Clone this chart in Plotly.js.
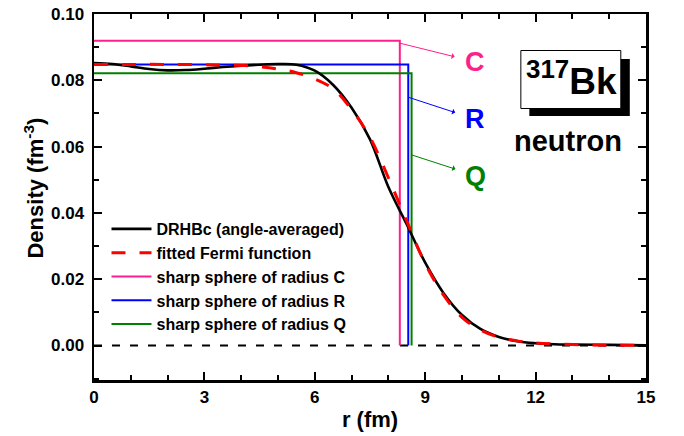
<!DOCTYPE html>
<html>
<head>
<meta charset="utf-8">
<script src="https://cdn.plot.ly/plotly-3.0.1.min.js"></script>
<style>
  html, body { margin: 0; padding: 0; background: #ffffff; }
  #chart { width: 684px; height: 436px; }
</style>
</head>
<body>
<div id="chart"></div>
<script>
// Neutron density of 317Bk: DRHBc profile (angle-averaged) and its Fermi fit, r in fm, rho in fm^-3
const rDRHBc = [0, 0.5, 1, 1.5, 2, 2.5, 3, 3.5, 4, 4.5, 5, 5.5, 6, 6.5, 7, 7.5, 8, 8.5, 9, 9.5, 10, 10.5, 11, 11.5, 12, 12.5, 13, 14, 15];
const rhoDRHBc = [0.0852, 0.0849, 0.0842, 0.0834, 0.0830, 0.0831, 0.0835, 0.0840, 0.0844, 0.0847, 0.0849, 0.0847, 0.0829, 0.0786, 0.0717, 0.0622, 0.0478, 0.0365, 0.0250, 0.0158, 0.0092, 0.0050, 0.0026, 0.0013, 0.0007, 0.0004, 0.0003, 0.0002, 0.0001];

const rFermi = [0, 1, 2, 3, 3.5, 4, 4.5, 5, 5.5, 6, 6.5, 7, 7.5, 8, 8.5, 9, 9.5, 10, 10.5, 11, 11.5, 12, 13, 14, 15];
const rhoFermi = [0.0848, 0.0848, 0.0848, 0.0847, 0.0846, 0.0845, 0.0841, 0.0834, 0.0823, 0.0804, 0.0774, 0.0712, 0.0628, 0.0506, 0.0375, 0.0247, 0.0152, 0.0085, 0.0047, 0.0025, 0.0014, 0.0008, 0.0003, 0.0001, 0.0001];

// Equivalent sharp spheres
const sphereNames = ['sharp sphere of radius C', 'sharp sphere of radius R', 'sharp sphere of radius Q'];
const sphereLabels = ['C', 'R', 'Q'];
const sphereRadius = [8.31, 8.54, 8.63];
const sphereDensity = [0.0919, 0.0848, 0.0821];

const xTickVals = [0, 3, 6, 9, 12, 15];
const yTickVals = [0.00, 0.02, 0.04, 0.06, 0.08, 0.10];
const yTickText = ['0.00', '0.02', '0.04', '0.06', '0.08', '0.10'];

const nucleusText = '<sup>317</sup>Bk';
const speciesText = 'neutron';

// ---- styling ----
const FONT = 'Liberation Sans, Arial, Helvetica, sans-serif';
const sphereColors = ['#FF1E8E', '#0000FF', '#008000'];

// plot area in pixels (used to place the boxed label)
const PL = 93.5, PR = 645.7, PT = 14, PB = 380;
const px2paperX = px => (px - PL) / (PR - PL);
const px2paperY = py => (PB - py) / (PB - PT);

const traces = [];

// zero reference line
traces.push({
  x: [0, 15], y: [0, 0], mode: 'lines', showlegend: false, hoverinfo: 'skip',
  line: { color: '#000000', width: 2, dash: '8px,10px' }
});

sphereNames.forEach((name, i) => {
  traces.push({
    x: [0, sphereRadius[i], sphereRadius[i]],
    y: [sphereDensity[i], sphereDensity[i], 0],
    mode: 'lines', name: name, legendrank: 3 + i,
    line: { color: sphereColors[i], width: 2 }
  });
});

traces.push({
  x: rDRHBc, y: rhoDRHBc, mode: 'lines', name: 'DRHBc (angle-averaged)', legendrank: 1,
  line: { color: '#000000', width: 2.6, shape: 'spline', smoothing: 1 }
});

traces.push({
  x: rFermi, y: rhoFermi, mode: 'lines', name: 'fitted Fermi function', legendrank: 2,
  line: { color: '#FF0000', width: 3, dash: '14px,14px', shape: 'spline', smoothing: 1 }
});

// letters C, R, Q with an arrow running from each sphere edge to the letter
const arrowTailY = [0.0912, 0.0749, 0.0575];
const letterPos = [[10.35, 0.0856], [10.36, 0.0683], [10.38, 0.0512]];

const annotations = [];
sphereLabels.forEach((lab, i) => {
  annotations.push({
    xref: 'x', yref: 'y', axref: 'x', ayref: 'y',
    x: sphereRadius[i], y: arrowTailY[i],
    ax: letterPos[i][0], ay: letterPos[i][1],
    text: lab, showarrow: true, arrowside: 'start',
    arrowhead: 2, arrowsize: 1.4, arrowwidth: 1,
    arrowcolor: sphereColors[i], standoff: 0, startstandoff: 9,
    font: { family: FONT, size: 27, weight: 'bold', color: sphereColors[i] }
  });
});

annotations.push({
  xref: 'paper', yref: 'paper', x: px2paperX(571), y: px2paperY(78),
  text: nucleusText, showarrow: false, xanchor: 'center', yanchor: 'middle',
  font: { family: FONT, size: 37, weight: 'bold', color: '#000000' }
});
annotations.push({
  xref: 'paper', yref: 'paper', x: px2paperX(568), y: px2paperY(141),
  text: speciesText, showarrow: false, xanchor: 'center', yanchor: 'middle',
  font: { family: FONT, size: 29, weight: 'bold', color: '#000000' }
});
// y-axis title
annotations.push({
  xref: 'paper', yref: 'paper', x: px2paperX(33), y: px2paperY(188),
  text: 'Density (fm<sup>-3</sup>)', showarrow: false, textangle: -90,
  xanchor: 'center', yanchor: 'middle',
  font: { family: FONT, size: 22, weight: 'bold', color: '#000000' }
});

const shapes = [
  { type: 'rect', xref: 'paper', yref: 'paper', layer: 'above',
    x0: px2paperX(529), x1: px2paperX(629.5), y0: px2paperY(116), y1: px2paperY(59),
    fillcolor: '#000000', line: { width: 0 } },
  { type: 'rect', xref: 'paper', yref: 'paper', layer: 'above',
    x0: px2paperX(520.5), x1: px2paperX(620.5), y0: px2paperY(108.5), y1: px2paperY(50.5),
    fillcolor: '#FFFFFF', line: { color: '#000000', width: 1 } }
];

const axisCommon = {
  showgrid: false, zeroline: false, showline: true, linecolor: '#000000', linewidth: 2.5,
  mirror: 'allticks', ticks: 'inside', ticklen: 8, tickwidth: 2, tickcolor: '#000000',
  tickfont: { family: FONT, size: 17, weight: 'bold', color: '#000000' }
};

const layout = {
  width: 684, height: 436,
  margin: { l: PL, r: 684 - PR, t: PT, b: 436 - PB, pad: 0 },
  paper_bgcolor: '#FFFFFF', plot_bgcolor: '#FFFFFF',
  showlegend: true,
  legend: {
    x: px2paperX(106), y: px2paperY(212), xanchor: 'left', yanchor: 'top',
    bgcolor: 'rgba(0,0,0,0)', borderwidth: 0, traceorder: 'normal', itemwidth: 40,
    font: { family: FONT, size: 16, weight: 'bold', color: '#000000' }
  },
  xaxis: Object.assign({}, axisCommon, {
    range: [0, 15], tickmode: 'array', tickvals: xTickVals,
    minor: { dtick: 1, ticks: 'inside', ticklen: 5, tickwidth: 2, tickcolor: '#000000' },
    title: { text: 'r (fm)', standoff: 6,
      font: { family: FONT, size: 22, weight: 'bold', color: '#000000' } }
  }),
  yaxis: Object.assign({}, axisCommon, {
    range: [-0.0104, 0.1], tickmode: 'array', tickvals: yTickVals, ticktext: yTickText,
    minor: { tick0: 0, dtick: 0.01, ticks: 'inside', ticklen: 5, tickwidth: 2, tickcolor: '#000000' },
    ticklabelstandoff: 4
  }),
  annotations: annotations,
  shapes: shapes
};

Plotly.newPlot('chart', traces, layout, { displayModeBar: false, staticPlot: true });
</script>
</body>
</html>
